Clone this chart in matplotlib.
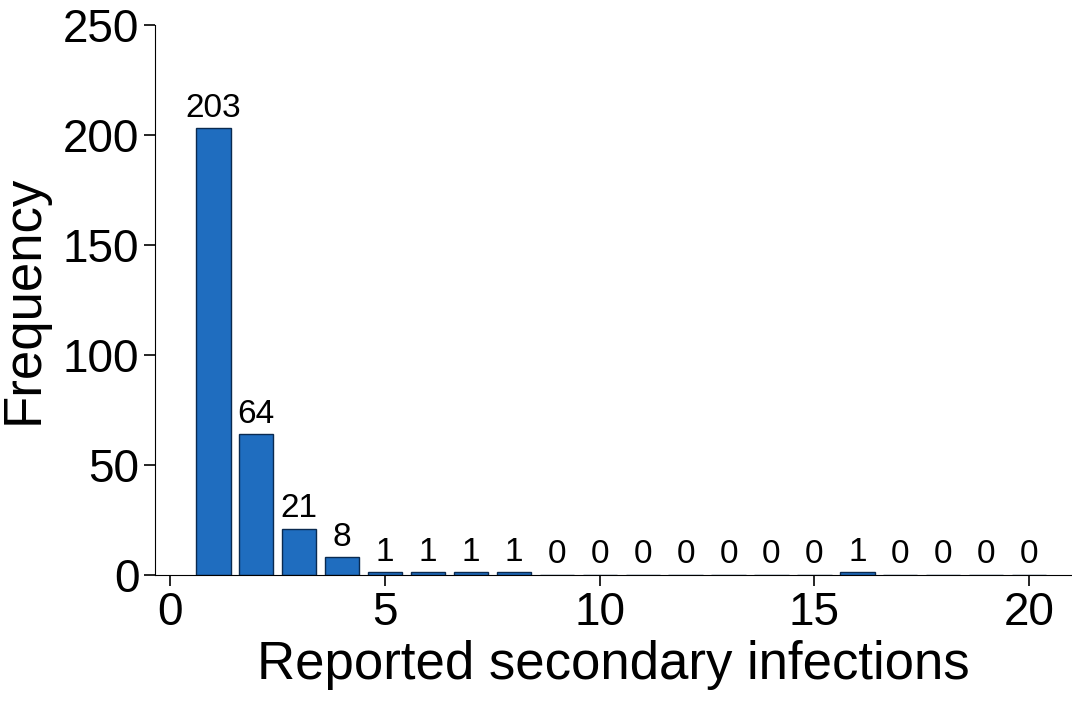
import matplotlib
matplotlib.use("Agg")
import matplotlib.pyplot as plt

infections = list(range(1, 21))
frequency = [203, 64, 21, 8, 1, 1, 1, 1, 0, 0, 0, 0, 0, 0, 0, 1, 0, 0, 0, 0]

plt.rcParams['font.family'] = ['Liberation Sans', 'DejaVu Sans']

fig = plt.figure(figsize=(10.72, 7.13), dpi=100)
ax = fig.add_axes([0.145, 0.194, 0.855, 0.771])

ax.bar(infections, frequency, width=0.8, color="#1f6dbf",
       edgecolor="#0a2a50", linewidth=1.0)
for x, v in zip(infections, frequency):
    ax.text(x, v + 2, str(v), ha="center", va="bottom", fontsize=24)

ax.set_xlim(-0.35, 21)
ax.set_ylim(0, 250)
ax.set_xticks([0, 5, 10, 15, 20])
ax.set_yticks([0, 50, 100, 150, 200, 250])
ax.tick_params(labelsize=33, length=8, width=1.2, direction="out")
ax.spines["top"].set_visible(False)
ax.spines["right"].set_visible(False)
ax.set_xlabel("Reported secondary infections", fontsize=38, labelpad=4)
ax.set_ylabel("Frequency", fontsize=38, labelpad=10)

fig.savefig("out.png", dpi=100)
